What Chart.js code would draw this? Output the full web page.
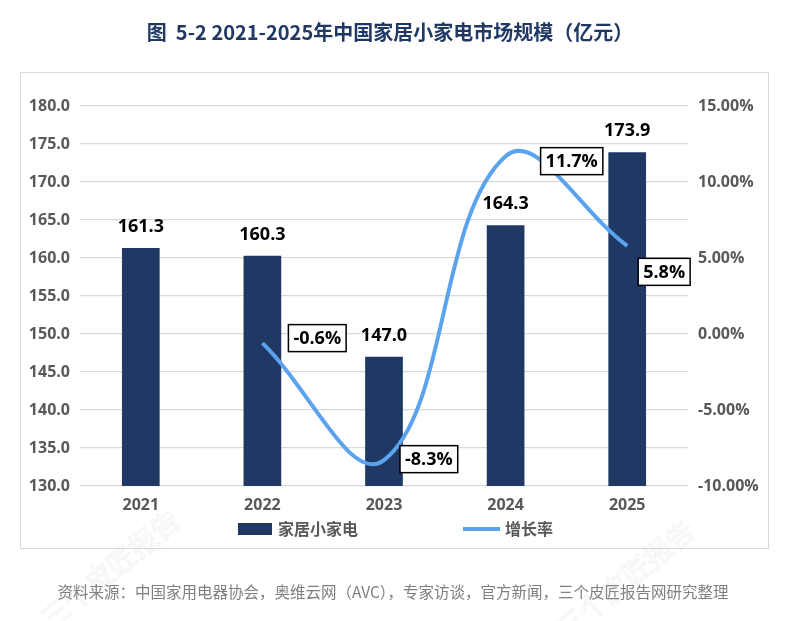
<!DOCTYPE html>
<html>
<head>
<meta charset="utf-8">
<script src="https://cdn.jsdelivr.net/npm/chart.js@4.4.1/dist/chart.umd.min.js"></script>
<style>
html,body{margin:0;padding:0;background:#fff;}
#wrap{width:793px;height:621px;position:relative;}
</style>
</head>
<body>
<div id="wrap"><canvas id="c" width="793" height="621"></canvas></div>
<script>
// ---- data ----
const categories = ['2021', '2022', '2023', '2024', '2025'];
const marketSize = [161.3, 160.3, 147.0, 164.3, 173.9];     // 亿元
const growthRate = [null, -0.6, -8.3, 11.7, 5.8];           // %
const leftTicks = { min: 130, max: 180, step: 5 };
const rightTicks = { min: -10, max: 15, step: 5 };
const barName = '家居小家电';
const lineName = '增长率';
const titleText = '图  5-2 2021-2025年中国家居小家电市场规模（亿元）';
const sourceText = '资料来源：中国家用电器协会，奥维云网（AVC），专家访谈，官方新闻，三个皮匠报告网研究整理';

// label offsets for growth-rate boxes (style only): [dx to box left, dy of box centre]
const rateLabelOffsets = [null, [26, -5], [16, -1], [35, 5], [11, 26]];

const FONT = '"Open Sans","Noto Sans CJK SC",sans-serif';
const CJK = '"Noto Sans CJK SC","Open Sans",sans-serif';
const BAR_COLOR = '#1F3864';
const LINE_COLOR = '#5BA3EC';
const GRID = '#D9D9D9';
const AXIS_TEXT = '#595959';

const decor = {
  id: 'decor',
  beforeDraw(chart) {
    const ctx = chart.ctx;
    ctx.save();
    ctx.fillStyle = '#fff';
    ctx.fillRect(0, 0, chart.width, chart.height);
    // frame
    ctx.strokeStyle = GRID;
    ctx.lineWidth = 1;
    ctx.strokeRect(20.5, 72.5, 748, 476);
    // title
    ctx.fillStyle = '#1F3864';
    ctx.font = 'bold 20px ' + CJK;
    ctx.textAlign = 'center';
    ctx.textBaseline = 'middle';
    ctx.fillText(titleText, 390, 32);
    // source
    ctx.fillStyle = '#7F7F7F';
    ctx.font = '15.5px ' + CJK;
    ctx.fillText(sourceText, 393, 592);
    // watermarks
    ctx.strokeStyle = 'rgba(180,180,180,0.22)';
    ctx.lineWidth = 0.8;
    ctx.font = '28px ' + CJK;
    [[45, 622], [560, 632]].forEach(([x, y]) => {
      ctx.save();
      ctx.translate(x, y);
      ctx.rotate(-0.68);
      ctx.textAlign = 'left';
      ctx.strokeText('三个皮匠报告', 0, 0);
      ctx.restore();
    });
    ctx.restore();
  },
  afterDatasetsDraw(chart) {
    const ctx = chart.ctx;
    const xs = chart.scales.x, ys = chart.scales.y, y1 = chart.scales.y1;
    ctx.save();
    ctx.textAlign = 'center';
    ctx.textBaseline = 'middle';
    // bar value labels
    ctx.fillStyle = '#000';
    ctx.font = 'bold 18px ' + FONT;
    marketSize.forEach((v, i) => {
      const x = xs.getPixelForValue(i);
      const y = ys.getPixelForValue(v);
      ctx.fillText(v.toFixed(1), x, y - 21);
    });
    // growth-rate boxed labels
    growthRate.forEach((v, i) => {
      if (v === null) return;
      const off = rateLabelOffsets[i];
      const px = xs.getPixelForValue(i);
      const py = y1.getPixelForValue(v);
      const txt = v.toFixed(1) + '%';
      ctx.font = 'bold 18px ' + FONT;
      const w = ctx.measureText(txt).width + 10;
      const h = 27;
      const bx = px + off[0];
      const cy = py + off[1];
      ctx.fillStyle = '#fff';
      ctx.fillRect(bx, cy - h / 2, w, h);
      ctx.strokeStyle = '#000';
      ctx.lineWidth = 1.5;
      ctx.strokeRect(bx, cy - h / 2, w, h);
      ctx.fillStyle = '#000';
      ctx.fillText(txt, bx + w / 2, cy + 1);
    });
    // legend
    const ly = 529;
    ctx.fillStyle = BAR_COLOR;
    ctx.fillRect(238, ly - 6, 34, 12);
    ctx.strokeStyle = LINE_COLOR;
    ctx.lineWidth = 4;
    ctx.beginPath();
    ctx.moveTo(463, ly);
    ctx.lineTo(500, ly);
    ctx.stroke();
    ctx.fillStyle = AXIS_TEXT;
    ctx.font = 'bold 16px ' + CJK;
    ctx.textAlign = 'left';
    ctx.fillText(barName, 278, ly);
    ctx.fillText(lineName, 505, ly);
    ctx.restore();
  }
};

new Chart(document.getElementById('c'), {
  data: {
    labels: categories,
    datasets: [
      {
        type: 'line',
        label: lineName,
        data: growthRate,
        yAxisID: 'y1',
        borderColor: LINE_COLOR,
        borderWidth: 4,
        pointRadius: 0,
        tension: 0.4,
        fill: false,
        order: 0
      },
      {
        type: 'bar',
        label: barName,
        data: marketSize,
        yAxisID: 'y',
        backgroundColor: BAR_COLOR,
        categoryPercentage: 1,
        barPercentage: 0.31,
        order: 1
      }
    ]
  },
  options: {
    responsive: false,
    animation: false,
    devicePixelRatio: 1,
    layout: { padding: { left: 20, right: 25, top: 106, bottom: 95 } },
    plugins: { legend: { display: false }, tooltip: { enabled: false }, title: { display: false } },
    scales: {
      x: {
        grid: { display: false, drawTicks: false },
        border: { display: false },
        ticks: { color: AXIS_TEXT, font: { family: FONT, size: 16, weight: 'bold' }, padding: 10 },
        afterFit(s) { s.height = 40; }
      },
      y: {
        position: 'left',
        min: leftTicks.min, max: leftTicks.max,
        grid: { color: GRID, lineWidth: 1.2, drawTicks: false },
        border: { display: false },
        ticks: {
          stepSize: leftTicks.step,
          color: AXIS_TEXT,
          font: { family: FONT, size: 16, weight: 'bold' },
          padding: 10,
          callback: v => Number(v).toFixed(1)
        },
        afterFit(s) { s.width = 60; }
      },
      y1: {
        position: 'right',
        min: rightTicks.min, max: rightTicks.max,
        grid: { display: false, drawTicks: false },
        border: { display: false },
        ticks: {
          stepSize: rightTicks.step,
          color: AXIS_TEXT,
          font: { family: FONT, size: 16, weight: 'bold' },
          padding: 10,
          callback: v => Number(v).toFixed(2) + '%'
        },
        afterFit(s) { s.width = 80; }
      }
    }
  },
  plugins: [decor]
});
</script>
</body>
</html>
